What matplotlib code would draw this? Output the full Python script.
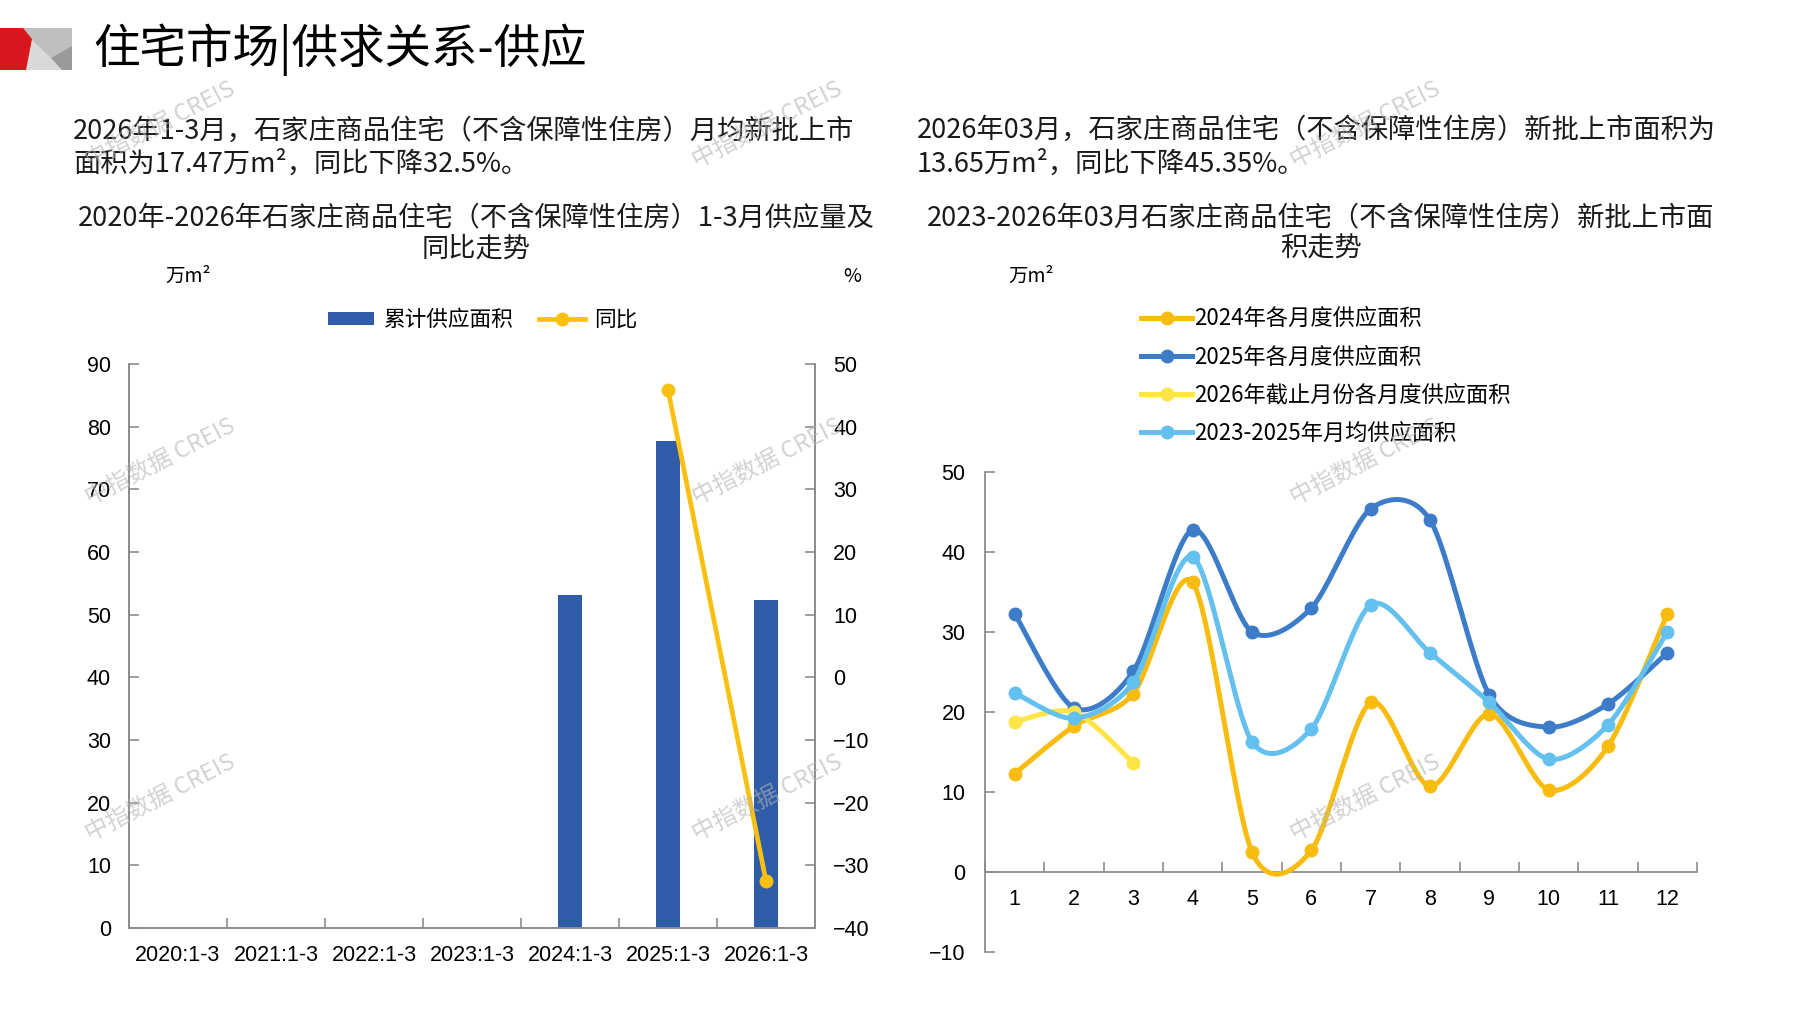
import numpy as np
import matplotlib
matplotlib.use("Agg")
import matplotlib.pyplot as plt
from matplotlib.patches import Polygon, Patch
from matplotlib.lines import Line2D

plt.rcParams['font.family'] = ['Noto Sans CJK SC', 'DejaVu Sans']

# ---- data: left chart (Jan-Mar supply, 10k m2, and YoY %)
periods = ["2020:1-3", "2021:1-3", "2022:1-3", "2023:1-3", "2024:1-3", "2025:1-3", "2026:1-3"]
supply = [0, 0, 0, 0, 53.2, 77.64, 52.41]
yoy = [np.nan, np.nan, np.nan, np.nan, np.nan, 45.9, -32.5]

# ---- data: right chart (monthly supply, 10k m2)
months = list(range(1, 13))
s2024 = [12.3, 18.25, 22.3, 36.2, 2.5, 2.7, 21.2, 10.7, 19.8, 10.25, 15.7, 32.3]
s2025 = [32.3, 20.5, 25.1, 42.8, 30.0, 33.0, 45.4, 44.0, 22.1, 18.1, 21.0, 27.4]
s2026 = [18.76, 20.0, 13.65]
avg_23_25 = [22.4, 19.2, 23.7, 39.4, 16.3, 17.9, 33.4, 27.4, 21.2, 14.1, 18.4, 30.0]

W, H = 1797, 1010
GRAY = '#8c8c8c'
TICKFONT = 'Liberation Sans'


def px(x, y):
    # pixel position (from top-left) -> figure fraction
    return x / W, 1 - y / H


def smooth(x, y, n=24, k=7):
    # Catmull-Rom style bezier smoothing, close to Excel smoothed lines
    pts = np.column_stack([x, y]).astype(float)
    if len(pts) < 3:
        return pts[:, 0], pts[:, 1]
    out = []
    t = np.linspace(0, 1, n)[:, None]
    for i in range(len(pts) - 1):
        p0 = pts[i - 1] if i > 0 else pts[i]
        p1, p2 = pts[i], pts[i + 1]
        p3 = pts[i + 2] if i + 2 < len(pts) else pts[i + 1]
        c1 = p1 + (p2 - p0) / k
        c2 = p2 - (p3 - p1) / k
        seg = (1 - t) ** 3 * p1 + 3 * (1 - t) ** 2 * t * c1 + 3 * (1 - t) * t ** 2 * c2 + t ** 3 * p2
        out.append(seg if i == 0 else seg[1:])
    out = np.vstack(out)
    return out[:, 0], out[:, 1]


fig = plt.figure(figsize=(W / 100, H / 100), dpi=100)

# ---- header logo
logo = [
    ([(23, 28), (72, 28), (72, 70), (23, 70)], '#d9d9d9'),
    ([(23, 28), (72, 28), (72, 46), (51, 58), (31, 39)], '#bfbfbf'),
    ([(72, 46), (72, 70), (62, 70), (51, 58)], '#9a9a9a'),
    ([(0, 28), (23, 28), (32, 39), (26, 70), (0, 70)], '#d7161e'),
]
for pts, col in logo:
    fig.patches.append(Polygon([px(a, b) for a, b in pts], closed=True, transform=fig.transFigure,
                               facecolor=col, edgecolor='none'))

fig.text(*px(93, 50), "住宅市场|供求关系-供应", fontsize=33.5, va='center', ha='left', color='black')

# ---- paragraphs
fig.text(*px(73, 131), "2026年1-3月，石家庄商品住宅（不含保障性住房）月均新批上市", fontsize=19.6, va='center', color='#1a1a1a')
fig.text(*px(73, 164), "面积为17.47万m²，同比下降32.5%。", fontsize=19.6, va='center', color='#1a1a1a')
fig.text(*px(917, 130), "2026年03月，石家庄商品住宅（不含保障性住房）新批上市面积为", fontsize=19.6, va='center', color='#1a1a1a')
fig.text(*px(917, 164), "13.65万m²，同比下降45.35%。", fontsize=19.6, va='center', color='#1a1a1a')

# ---- chart titles
for (x, y), s in zip([(476, 218), (476, 249)], ["2020年-2026年石家庄商品住宅（不含保障性住房）1-3月供应量及", "同比走势"]):
    fig.text(*px(x, y), s, fontsize=19.6, ha='center', va='center', color='#1a1a1a')
for (x, y), s in zip([(1321, 218), (1321, 249)], ["2023-2026年03月石家庄商品住宅（不含保障性住房）新批上市面", "积走势"]):
    fig.text(*px(x, y), s, fontsize=19.6, ha='center', va='center', color='#1a1a1a')

fig.text(*px(188, 276), "万m²", fontsize=14, ha='center', va='center')
fig.text(*px(852, 276), "%", fontsize=14, ha='center', va='center')
fig.text(*px(1031, 276), "万m²", fontsize=14, ha='center', va='center')

# ---- left chart
ax1 = fig.add_axes([129 / W, (H - 928) / H, 686 / W, 564 / H])
x = np.arange(len(periods))
ax1.bar(x, supply, width=0.25, color='#2f5ca8', zorder=2)
ax1.set_xlim(-0.5, len(periods) - 0.5)
ax1.set_ylim(0, 90)
ax1.set_yticks(np.arange(0, 91, 10))
ax1.set_xticks(x)
ax1.set_xticklabels(periods)
ax1.set_xticks(np.arange(0.5, len(periods) - 0.5, 1), minor=True)
ax1.spines['top'].set_visible(False)
for sp in ['left', 'bottom', 'right']:
    ax1.spines[sp].set_color(GRAY)
    ax1.spines[sp].set_linewidth(1.3)
ax1.tick_params(axis='x', which='major', length=0, pad=12, labelsize=15.5)
ax1.tick_params(axis='x', which='minor', direction='in', length=7, color=GRAY, width=1.2)
ax1.tick_params(axis='y', direction='in', length=7, color=GRAY, width=1.2, pad=13, labelsize=15.5)

ax2 = ax1.twinx()
ax2.plot(x, yoy, color='#f9c012', lw=3.4, marker='o', ms=9, zorder=3)
ax2.set_ylim(-40, 50)
ax2.set_yticks(np.arange(-40, 51, 10))
ax2.spines['top'].set_visible(False)
for sp in ['left', 'bottom', 'right']:
    ax2.spines[sp].set_color(GRAY)
    ax2.spines[sp].set_linewidth(1.3)
ax2.tick_params(axis='y', direction='in', length=7, color=GRAY, width=1.2, pad=13, labelsize=15.5)

for a in (ax1, ax2):
    for lab in a.get_xticklabels() + a.get_yticklabels():
        lab.set_fontfamily(TICKFONT)

h_bar = Patch(facecolor='#2f5ca8', edgecolor='none')
h_yoy = Line2D([], [], color='#f9c012', lw=3.4, marker='o', ms=9)
fig.legend([h_bar, h_yoy], ["累计供应面积", "同比"], loc='center', bbox_to_anchor=px(483, 320),
           ncol=2, frameon=False, fontsize=15.6, handlelength=2.1, handleheight=0.55,
           handletextpad=0.45, columnspacing=1.2)

# ---- right chart
ax3 = fig.add_axes([985 / W, (H - 952) / H, 712 / W, 480 / H])
series = [
    (s2024, '#f8bc10', "2024年各月度供应面积"),
    (s2025, '#3d7cc9', "2025年各月度供应面积"),
    (s2026, '#ffe445', "2026年截止月份各月度供应面积"),
    (avg_23_25, '#64c0ee', "2023-2025年月均供应面积"),
]
handles = []
for vals, col, lab in series:
    mx = months[:len(vals)]
    sx, sy = smooth(mx, vals)
    ax3.plot(sx, sy, color=col, lw=3.6, solid_capstyle='round', zorder=3)
    ax3.plot(mx, vals, 'o', color=col, ms=9, zorder=3)
    handles.append(Line2D([], [], color=col, lw=3.6, marker='o', ms=9))

ax3.set_xlim(0.5, 12.5)
ax3.set_ylim(-10, 50)
ax3.set_yticks(np.arange(-10, 51, 10))
ax3.set_xticks(months)
ax3.set_xticks(np.arange(0.5, 12.6, 1), minor=True)
ax3.spines['top'].set_visible(False)
ax3.spines['right'].set_visible(False)
ax3.spines['bottom'].set_position(('data', 0))
for sp in ['left', 'bottom']:
    ax3.spines[sp].set_color(GRAY)
    ax3.spines[sp].set_linewidth(1.3)
ax3.tick_params(axis='x', which='major', length=0, pad=12, labelsize=15.5)
ax3.tick_params(axis='x', which='minor', direction='in', length=7, color=GRAY, width=1.2)
ax3.tick_params(axis='y', direction='in', length=7, color=GRAY, width=1.2, pad=14, labelsize=15.5)
for lab in ax3.get_xticklabels() + ax3.get_yticklabels():
    lab.set_fontfamily(TICKFONT)

fig.legend(handles, [s[2] for s in series], loc='center left', bbox_to_anchor=px(1121, 376),
           frameon=False, fontsize=16, handlelength=2.3, handletextpad=0.1, labelspacing=0.68)

# ---- watermarks
for wx in (160, 767, 1365):
    for wy in (125, 462, 798):
        fig.text(*px(wx, wy), "中指数据 CREIS", fontsize=17, rotation=27, color='#b4b4b4',
                 alpha=0.6, ha='center', va='center', zorder=10)

fig.savefig("out.png", dpi=100)
